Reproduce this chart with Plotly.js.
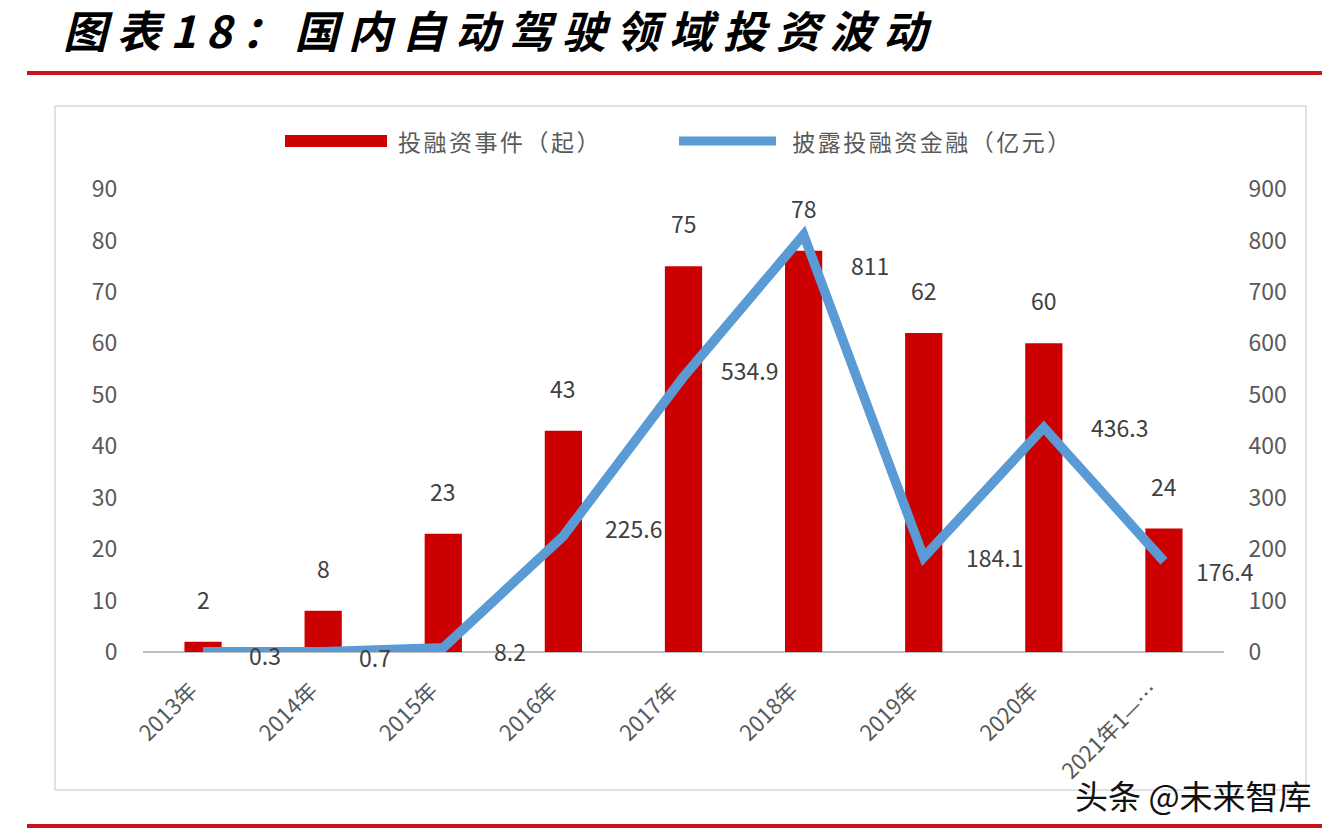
<!DOCTYPE html>
<html><head><meta charset="utf-8">
<script src="https://cdn.plot.ly/plotly-3.0.1.min.js"></script>
<style>
html,body{margin:0;padding:0;background:#fff;}
#chart{width:1338px;height:836px;}
#chart .gtitle{letter-spacing:9.5px;}
#chart .annotation[data-index="18"] text, #chart .annotation[data-index="19"] text{letter-spacing:2.5px;}
</style>
</head><body><div id="chart"></div>
<script>
// ---- data ----
const categories = ['2013年','2014年','2015年','2016年','2017年','2018年','2019年','2020年','2021年1—…'];
const eventCounts = [2, 8, 23, 43, 75, 78, 62, 60, 24];
const amounts = [0.3, 0.7, 8.2, 225.6, 534.9, 811, 184.1, 436.3, 176.4];
const amountLabels = ['0.3', '0.7', '8.2', '225.6', '534.9', '811', '184.1', '436.3', '176.4'];
const seriesNames = ['投融资事件（起）', '披露投融资金融（亿元）'];
const titleText = '图表18：国内自动驾驶领域投资波动';
const watermark = '头条 @未来智库';

// ---- style / placement ----
const W = 1338, H = 836;
const M = {l: 143, r: 114, t: 189, b: 184};
const pw = W - M.l - M.r, ph = H - M.t - M.b;
const px = x => (x - M.l) / pw;
const py = y => (H - M.b - y) / ph;
const lineLabelDx = [62, 52, 67, 70, 66, 66, 71, 76, 61];
const lineLabelDy = [-3, -5, -3, 8, 7, -30, 0, 1, -10];
const RED = '#CC0000', BLUE = '#5B9BD5', GREY = '#595959';
const FONT = '"Noto Sans CJK SC", "Noto Sans", sans-serif';

const bars = {
  type: 'bar', x: categories, y: eventCounts, name: seriesNames[0],
  marker: {color: RED}, width: 0.31, yaxis: 'y', showlegend: false, hoverinfo: 'skip'
};
const line = {
  type: 'scatter', mode: 'lines', x: categories, y: amounts, name: seriesNames[1],
  line: {color: BLUE, width: 9.5}, yaxis: 'y2', showlegend: false, hoverinfo: 'skip'
};

const annotations = [];
categories.forEach((c, i) => {
  annotations.push({x: c, y: eventCounts[i], xref: 'x', yref: 'y', text: String(eventCounts[i]),
    showarrow: false, yanchor: 'middle', yshift: 43, font: {family: FONT, size: 23, color: '#404040'}});
  annotations.push({x: c, y: amounts[i], xref: 'x', yref: 'y2', text: amountLabels[i],
    showarrow: false, xanchor: 'center', yanchor: 'middle', xshift: lineLabelDx[i], yshift: lineLabelDy[i],
    font: {family: FONT, size: 23, color: '#404040'}});
});
// legend texts (indices 18, 19); centred so letter-spacing grows evenly
annotations.push({xref: 'paper', yref: 'paper', x: px(500), y: py(141), xanchor: 'center', yanchor: 'middle',
  text: seriesNames[0], showarrow: false, font: {family: FONT, size: 23, color: GREY}});
annotations.push({xref: 'paper', yref: 'paper', x: px(932), y: py(141), xanchor: 'center', yanchor: 'middle',
  text: seriesNames[1], showarrow: false, font: {family: FONT, size: 23, color: GREY}});
// watermark
annotations.push({xref: 'paper', yref: 'paper', x: px(1314), y: py(795), xanchor: 'right', yanchor: 'middle',
  text: watermark, showarrow: false, font: {family: FONT, size: 33, color: '#111', shadow: '1px 1px 1px #fff'}});

const shapes = [
  // frame
  {type: 'rect', xref: 'paper', yref: 'paper', x0: px(55), x1: px(1306), y0: py(790), y1: py(106),
   line: {color: '#D9D9D9', width: 1.5}, fillcolor: 'rgba(0,0,0,0)', layer: 'below'},
  // red rules
  {type: 'line', xref: 'paper', yref: 'paper', x0: px(27), x1: px(1322), y0: py(73), y1: py(73),
   line: {color: '#C8141E', width: 4}},
  {type: 'line', xref: 'paper', yref: 'paper', x0: px(27), x1: px(1322), y0: py(826), y1: py(826),
   line: {color: '#C8141E', width: 4}},
  // legend symbols
  {type: 'rect', xref: 'paper', yref: 'paper', x0: px(285), x1: px(387), y0: py(147), y1: py(135),
   line: {width: 0}, fillcolor: RED},
  {type: 'line', xref: 'paper', yref: 'paper', x0: px(679), x1: px(776), y0: py(141), y1: py(141),
   line: {color: BLUE, width: 9}}
];

const layout = {
  width: W, height: H, margin: M, paper_bgcolor: '#fff', plot_bgcolor: 'rgba(0,0,0,0)',
  title: {text: titleText, xref: 'container', yref: 'container', x: 63 / W, xanchor: 'left',
    y: 1 - 33 / H, yanchor: 'middle',
    font: {family: FONT, size: 44, color: '#000', weight: 'bold', style: 'italic'}},
  showlegend: false,
  xaxis: {type: 'category', range: [-0.5, categories.length - 0.5], showgrid: false, zeroline: false,
    showline: false, tickangle: -45, ticks: 'outside', ticklen: 16, tickcolor: 'rgba(0,0,0,0)',
    ticklabelshift: -12,
    tickfont: {family: FONT, size: 22, color: GREY}, fixedrange: true},
  yaxis: {range: [0, 90], dtick: 10, showgrid: false, zeroline: true, zerolinecolor: '#BFBFBF',
    zerolinewidth: 1.5, showline: false, ticks: 'outside', ticklen: 20, tickcolor: 'rgba(0,0,0,0)',
    tickfont: {family: FONT, size: 23, color: GREY}},
  yaxis2: {range: [0, 900], dtick: 100, overlaying: 'y', side: 'right', showgrid: false, zeroline: false,
    showline: false, ticks: 'outside', ticklen: 19, tickcolor: 'rgba(0,0,0,0)',
    tickfont: {family: FONT, size: 23, color: GREY}},
  annotations: annotations,
  shapes: shapes
};

Plotly.newPlot('chart', [bars, line], layout, {staticPlot: true, displayModeBar: false});
</script>
</body></html>
